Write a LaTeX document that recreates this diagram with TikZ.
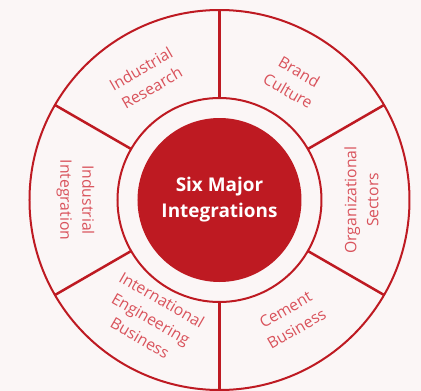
\documentclass[tikz,border=0pt]{standalone}
\usepackage{fontspec}
\setmainfont{Open Sans}
\definecolor{ringred}{HTML}{BE1A22}
\definecolor{labelred}{HTML}{D9535C}
\definecolor{bgpink}{HTML}{FBF6F6}
\begin{document}
\begin{tikzpicture}[x=1bp,y=1bp,
  ring/.style={draw=ringred, line width=2bp},
  divider/.style={draw=ringred, line width=2.5bp},
  seglabel/.style={text=labelred, font=\fontsize{15.8}{22}\selectfont, align=center, inner sep=0pt},
  hubnode/.style={circle, fill=ringred, minimum size=164bp, inner sep=0pt, text=white,
    font=\bfseries\fontsize{19}{26}\selectfont, align=center}]
\fill[bgpink] (-219.5,-191) rectangle (201.5,200);
\useasboundingbox (-219.5,-191) rectangle (201.5,200);
\coordinate (c) at (0,0);
\draw[ring] (c) circle (190);
\draw[ring] (c) circle (102);
\node[hubnode] (hub) at (c) {Six Major\\Integrations};
\foreach \a in {90,30,-30,-90,-150,150}
  \draw[divider] (\a:102) -- (\a:190);
\node[seglabel, rotate=30]  (research) at (121:142) {Industrial\\Research};
\node[seglabel, rotate=-30] (brand)    at (58:140)  {Brand\\Culture};
\node[seglabel, rotate=90]  (org)      at (0:142)   {Organizational\\Sectors};
\node[seglabel, rotate=30]  (cement)   at (-59:139) {Cement\\Business};
\node[seglabel, rotate=-30] (intl)     at (-120:137) {International\\Engineering\\Business};
\node[seglabel, rotate=-90] (integr)   at (180:144) {Industrial\\Integration};
\end{tikzpicture}
\end{document}
